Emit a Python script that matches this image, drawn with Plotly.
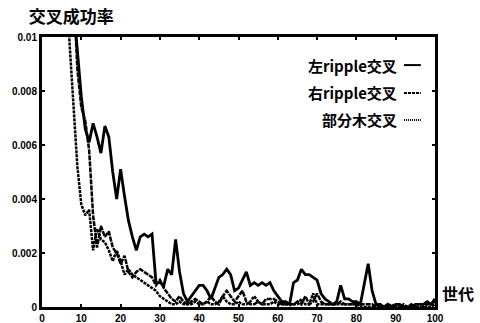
import plotly.graph_objects as go

generations = list(range(0, 101))

left_ripple = [
    0.05, 0.045, 0.04, 0.035, 0.03, 0.024, 0.019, 0.0145, 0.0112, 0.0096,
    0.0078, 0.0066, 0.0061, 0.0068, 0.0063, 0.0057, 0.0067, 0.0063, 0.0050, 0.0040,
    0.0051, 0.0041, 0.0032, 0.0026, 0.0021, 0.0026, 0.0027, 0.0026, 0.0027, 0.0009,
    0.0009, 0.0008, 0.0014, 0.0012, 0.0025, 0.0013, 0.0005, 0.0002, 0.0004, 0.0006,
    0.0008, 0.0008, 0.0006, 0.0003, 0.0007, 0.0011, 0.0012, 0.0014, 0.0012, 0.0006,
    0.0007, 0.0010, 0.0013, 0.0008, 0.0009, 0.0008, 0.0009, 0.0008, 0.0009, 0.0006,
    0.0004, 0.0002, 0.0002, 0.0001, 0.0009, 0.0010, 0.0014, 0.0012, 0.0012, 0.0011,
    0.0010, 0.0005, 0.0003, 0.0002, 0.0001, 0.0002, 0.0008, 0.0003, 0.0003, 0.0002,
    0.0002, 0.0001, 0.0009, 0.0016, 0.0006, 0.0001, 0.0001, 0.0, 0.0001, 0.0,
    0.0001, 0.0001, 0.0, 0.0, 0.0, 0.0001, 0.0001, 0.0001, 0.0002, 0.0001, 0.0003,
]

right_ripple = [
    0.05, 0.045, 0.04, 0.035, 0.03, 0.025, 0.02, 0.015, 0.0118, 0.0088,
    0.0074, 0.0069, 0.0058, 0.0034, 0.0022, 0.0030, 0.0026, 0.0028, 0.0022, 0.0020,
    0.0016, 0.0019, 0.0013, 0.0011, 0.0013, 0.0014, 0.0013, 0.0012, 0.0011, 0.0008,
    0.0010, 0.0007, 0.0005, 0.0003, 0.0002, 0.0004, 0.0002, 0.0001, 0.0002, 0.0003,
    0.0002, 0.0001, 0.0002, 0.0004, 0.0002, 0.0001, 0.0004, 0.0006, 0.0004, 0.0002,
    0.0004, 0.0006, 0.0002, 0.0001, 0.0001, 0.0002, 0.0001, 0.0003, 0.0003, 0.0003,
    0.0002, 0.0001, 0.0001, 0.0001, 0.0001, 0.0002, 0.0001, 0.0004, 0.0001, 0.0002,
    0.0005, 0.0002, 0.0001, 0.0001, 0.0001, 0.0001, 0.0002, 0.0001, 0.0001, 0.0001,
    0.0001, 0.0001, 0.0001, 0.0001, 0.0001, 0.0, 0.0001, 0.0, 0.0, 0.0001,
    0.0, 0.0, 0.0, 0.0, 0.0001, 0.0, 0.0, 0.0, 0.0001, 0.0001, 0.0002,
]

subtree = [
    0.04, 0.035, 0.03, 0.025, 0.02, 0.016, 0.0125, 0.0098, 0.0075, 0.0052,
    0.0038, 0.0034, 0.0036, 0.0021, 0.0029, 0.0025, 0.0024, 0.0021, 0.0017, 0.0021,
    0.0017, 0.0012, 0.0014, 0.0012, 0.0011, 0.0010, 0.0009, 0.0008, 0.0007, 0.0006,
    0.0004, 0.0003, 0.0002, 0.0001, 0.0001, 0.0002, 0.0001, 0.0001, 0.0001, 0.0002,
    0.0001, 0.0001, 0.0002, 0.0001, 0.0001, 0.0002, 0.0004, 0.0002, 0.0001, 0.0001,
    0.0002, 0.0001, 0.0001, 0.0002, 0.0004, 0.0002, 0.0001, 0.0001, 0.0001, 0.0002,
    0.0001, 0.0001, 0.0001, 0.0001, 0.0001, 0.0001, 0.0003, 0.0001, 0.0001, 0.0005,
    0.0001, 0.0001, 0.0001, 0.0001, 0.0001, 0.0001, 0.0001, 0.0001, 0.0001, 0.0001,
    0.0001, 0.0, 0.0, 0.0, 0.0, 0.0001, 0.0, 0.0, 0.0, 0.0,
    0.0, 0.0, 0.0001, 0.0, 0.0, 0.0, 0.0, 0.0, 0.0, 0.0, 0.0001,
]

series_names = ["左ripple交叉", "右ripple交叉", "部分木交叉"]
x_ticks = [0, 10, 20, 30, 40, 50, 60, 70, 80, 90, 100]
y_ticks = [0, 0.002, 0.004, 0.006, 0.008, 0.01]
y_tick_text = ["0", "0.002", "0.004", "0.006", "0.008", "0.01"]

FONT = "Liberation Sans, Noto Sans CJK JP, sans-serif"
CJK = "Noto Sans CJK JP, sans-serif"

fig = go.Figure()
styles = [
    dict(width=2.8, dash="solid"),
    dict(width=2.5, dash="5px,1px"),
    dict(width=2.5, dash="3px,1px"),
]
for name, vals, st in zip(series_names, [left_ripple, right_ripple, subtree], styles):
    fig.add_trace(go.Scatter(
        x=generations, y=vals, mode="lines", name=name,
        line=dict(color="black", width=st["width"], dash=st["dash"]),
        showlegend=False, hoverinfo="skip",
    ))

axis_common = dict(
    showline=True, linecolor="black", linewidth=3, mirror="ticks",
    ticks="inside", ticklen=3, tickwidth=2, tickcolor="black",
    showgrid=False, zeroline=False, automargin=False,
    tickfont=dict(family=FONT, size=10, color="black", weight="bold"),
)

fig.update_layout(
    width=480, height=323,
    margin=dict(l=42, r=45, t=37, b=16),
    paper_bgcolor="white", plot_bgcolor="white",
    title=dict(text="交叉成功率", x=0.06, xanchor="left", y=0.947, yanchor="middle",
               font=dict(family=CJK, size=17, color="black", weight="bold")),
    xaxis=dict(range=[0, 100], tickvals=x_ticks, **axis_common),
    yaxis=dict(range=[0, 0.01], tickvals=y_ticks, ticktext=y_tick_text, **axis_common),
)

fig.add_annotation(text="世代", xref="paper", yref="paper", x=1.013, y=0.052,
                   xanchor="left", yanchor="middle", showarrow=False,
                   font=dict(family=CJK, size=16, color="black", weight="bold"))

legend_y = [0.896, 0.793, 0.693]
legend_dash = ["solid", "3px,1px", "1px,1px"]
for name, ly, dsh in zip(series_names, legend_y, legend_dash):
    fig.add_annotation(text=name, xref="paper", yref="paper", x=0.908, y=ly,
                       xanchor="right", yanchor="middle", showarrow=False,
                       font=dict(family=CJK, size=15, color="black", weight="bold"))
    fig.add_shape(type="line", xref="paper", yref="paper", x0=0.921, x1=0.964,
                  y0=ly, y1=ly, line=dict(color="black", width=2, dash=dsh))

fig.write_html("out.html",
               config={"displayModeBar": False, "staticPlot": True},
               post_script="document.body.style.margin='0';document.body.style.overflow='hidden';")
